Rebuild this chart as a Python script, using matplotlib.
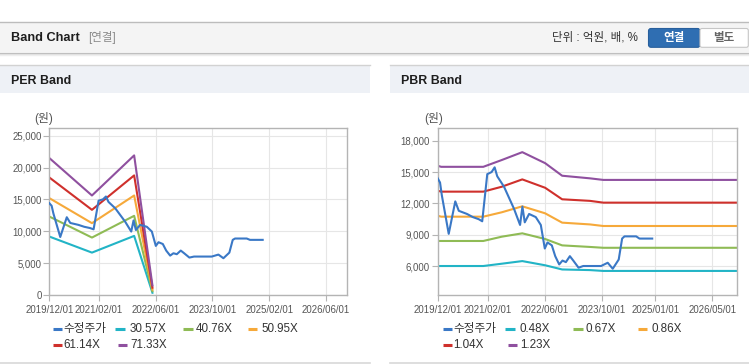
import matplotlib
matplotlib.use('Agg')
import matplotlib.pyplot as plt
import matplotlib.dates as mdates
from matplotlib.patches import Rectangle, FancyBboxPatch
from matplotlib.ticker import FuncFormatter, FixedLocator
import pandas as pd

W, H = 749, 364
FONT = ['Liberation Sans', 'Noto Sans CJK KR', 'DejaVu Sans']
plt.rcParams['font.family'] = FONT

# ---------------- data ----------------
price_dates = ['2019-12-01', '2019-12-21', '2020-01-05', '2020-03-04', '2020-04-29', '2020-05-29',
               '2020-08-07', '2020-09-26', '2020-11-15', '2020-12-15', '2021-01-27', '2021-03-05',
               '2021-03-31', '2021-04-22', '2021-06-19', '2021-09-12', '2021-11-03', '2021-11-23',
               '2021-12-13', '2022-01-19', '2022-03-17', '2022-04-29', '2022-06-02', '2022-06-25',
               '2022-08-01', '2022-08-30', '2022-10-03', '2022-10-31', '2022-11-29', '2023-01-02',
               '2023-01-31', '2023-03-17', '2023-04-26', '2023-09-25', '2023-11-21', '2024-01-03',
               '2024-02-23', '2024-03-23', '2024-04-12', '2024-07-21', '2024-08-18', '2024-12-05']
price_values = [14400, 14000, 12800, 9100, 12200, 11300,
                11000, 10700, 10500, 10300, 14800, 15000,
                15450, 14600, 13600, 11500, 9950, 11700,
                10200, 11000, 10700, 9950, 7700, 8280,
                8000, 6970, 6180, 6550, 6400, 6970,
                6550, 5870, 6030, 6030, 6340, 5770,
                6650, 8650, 8860, 8860, 8650, 8650]

per_dates = ['2019-12-01', '2020-12-01', '2021-11-28', '2022-05-04']
per_labels = ['30.57X', '40.76X', '50.95X', '61.14X', '71.33X']
per_3057 = [9170, 6650, 9270, 350]
per_4076 = [12310, 9010, 12420, 600]
per_5095 = [15200, 11270, 15610, 850]
per_6114 = [18440, 13360, 18760, 1150]
per_7133 = [21490, 15610, 21900, 1500]

pbr_dates = ['2019-12-01', '2019-12-31', '2020-12-24', '2021-05-31', '2021-11-22',
             '2022-06-05', '2022-10-28', '2023-06-23', '2023-10-14', '2026-12-01']
pbr_labels = ['0.48X', '0.67X', '0.86X', '1.04X', '1.23X']
pbr_048 = [6030, 6030, 6030, 6250, 6500, 6100, 5700, 5640, 5560, 5560]
pbr_067 = [8420, 8420, 8420, 8830, 9150, 8610, 8000, 7850, 7770, 7770]
pbr_086 = [10830, 10740, 10740, 11160, 11730, 11060, 10170, 10000, 9850, 9850]
pbr_104 = [13220, 13130, 13130, 13600, 14300, 13500, 12400, 12250, 12080, 12080]
pbr_123 = [15600, 15500, 15500, 16150, 16900, 15850, 14650, 14400, 14250, 14250]

price_label = '수정주가'
per_xticks = ['2019-12-01', '2021-02-01', '2022-06-01', '2023-10-01', '2025-02-01', '2026-06-01']
pbr_xticks = ['2019-12-01', '2021-02-01', '2022-06-01', '2023-10-01', '2025-01-01', '2026-05-01']
per_yticks = [0, 5000, 10000, 15000, 20000, 25000]
pbr_yticks = [6000, 9000, 12000, 15000, 18000]

# ---------------- style ----------------
C_PRICE = '#3a78c6'
BAND_COLORS = ['#22b4c6', '#8fbb55', '#f6a93a', '#cf302c', '#8f509f']

fig = plt.figure(figsize=(W / 100, H / 100), dpi=100)
fig.patch.set_facecolor('white')

bg = fig.add_axes([0, 0, 1, 1], zorder=0)
bg.set_xlim(0, W)
bg.set_ylim(H, 0)
bg.axis('off')

def rect(x0, y0, x1, y1):
    return [x0 / W, 1 - y1 / H, (x1 - x0) / W, (y1 - y0) / H]

# top header bar
bg.add_patch(Rectangle((0, 22.3), W, 30, facecolor='#f4f4f4', edgecolor='none'))
bg.plot([0, W], [22.3, 22.3], color='#bcbcbc', lw=1.0)
bg.plot([0, W], [52.5, 52.5], color='#b8b8b8', lw=1.0)
bg.plot([0, W], [53.8, 53.8], color='#dedede', lw=1.0)
bg.plot([0, W], [55.0, 55.0], color='#eeeeee', lw=1.0)
bg.text(11, 38, 'Band Chart', fontsize=9.2, fontweight='bold', color='#1e1e1e', va='center', ha='left')
bg.text(88, 38, '[연결]', fontsize=8.3, color='#8a8a8a', va='center', ha='left')
bg.text(552.5, 38, '단위 : 억원, 배, %', fontsize=8.3, color='#333333', va='center', ha='left')
bg.add_patch(FancyBboxPatch((648.5, 28.5), 51.5, 18.8, boxstyle='round,pad=0,rounding_size=2.5',
                            facecolor='#2f6eb2', edgecolor='#285f9c', lw=0.8))
bg.text(674.2, 38.2, '연결', fontsize=8.3, fontweight='bold', color='white', va='center', ha='center')
bg.add_patch(FancyBboxPatch((700, 28.5), 48.3, 18.8, boxstyle='round,pad=0,rounding_size=2',
                            facecolor='white', edgecolor='#c6c6c6', lw=0.8))
bg.text(724.2, 38.2, '별도', fontsize=8.3, fontweight='bold', color='#666666', va='center', ha='center')

# panels
for px0, px1, title in [(0, 370, 'PER Band'), (390, W, 'PBR Band')]:
    bg.add_patch(Rectangle((px0, 64.5), px1 - px0, 28.2, facecolor='#eef1f6', edgecolor='none'))
    bg.plot([px0, px1], [64.5, 64.5], color='#d2d2d2', lw=1.0)
    bg.plot([px0, px1], [362.8, 362.8], color='#d8d8d8', lw=1.2)
    bg.text(px0 + 11, 80.5, title, fontsize=8.9, fontweight='bold', color='#1e1e1e', va='center', ha='left')
    bg.text(px0 + 43.5, 118.2, '(원)', fontsize=8.5, color='#555555', va='center', ha='center')

fmt = FuncFormatter(lambda v, p: f'{v:,.0f}')

def style_axes(ax, xt, yt, ylim):
    ax.set_facecolor('white')
    ax.set_xlim(pd.Timestamp('2019-12-01'), pd.Timestamp('2026-12-01'))
    ax.set_ylim(*ylim)
    xt_d = pd.to_datetime(xt)
    ax.xaxis.set_major_locator(FixedLocator(mdates.date2num(xt_d)))
    ax.set_xticklabels([d.strftime('%Y/%m/%d') for d in xt_d])
    ax.set_yticks(yt)
    ax.yaxis.set_major_formatter(fmt)
    ax.grid(True, color='#e6e6e6', lw=0.8)
    ax.set_axisbelow(True)
    for s in ax.spines.values():
        s.set_color('#b4b4b4')
        s.set_linewidth(1.0)
    ax.tick_params(axis='both', colors='#b4b4b4', labelcolor='#555555', labelsize=6.9,
                   length=4, width=0.8)
    ax.tick_params(axis='y', pad=1.5)
    ax.tick_params(axis='x', pad=3)

# PER chart
ax1 = fig.add_axes(rect(49.3, 128.3, 347.3, 295), zorder=1)
style_axes(ax1, per_xticks, per_yticks, (0, 26150))
per_series = [per_3057, per_4076, per_5095, per_6114, per_7133]
pd_per = pd.to_datetime(per_dates)
for vals, col in zip(per_series, BAND_COLORS):
    ax1.plot(pd_per, vals, color=col, lw=1.5, zorder=2)
ax1.plot(pd.to_datetime(price_dates), price_values, color=C_PRICE, lw=1.5, zorder=3)

# PBR chart
ax2 = fig.add_axes(rect(437.7, 128.3, 737.3, 295), zorder=1)
style_axes(ax2, pbr_xticks, pbr_yticks, (3262, 19178))
pbr_series = [pbr_048, pbr_067, pbr_086, pbr_104, pbr_123]
pd_pbr = pd.to_datetime(pbr_dates)
for vals, col in zip(pbr_series, BAND_COLORS):
    ax2.plot(pd_pbr, vals, color=col, lw=1.5, zorder=2)
ax2.plot(pd.to_datetime(price_dates), price_values, color=C_PRICE, lw=1.5, zorder=3)

# legends (manual, matching the reference layout)
leg_text_x = [63.5, 130, 196, 261, 63.5, 130]
leg_mark_x = [52.6, 115, 183, 247.5, 52.6, 117.5]
leg_row_y = [329, 329, 329, 329, 345, 345]
leg_colors = [C_PRICE] + BAND_COLORS
for off, labels in [(0, [price_label] + per_labels), (390, [price_label] + pbr_labels)]:
    for tx, mx, ry, col, lab in zip(leg_text_x, leg_mark_x, leg_row_y, leg_colors, labels):
        bg.plot([off + mx, off + mx + 9.5], [ry, ry], color=col, lw=2.2, solid_capstyle='butt')
        bg.text(off + tx, ry, lab, fontsize=8.4, color='#333333', va='center', ha='left')

fig.savefig('out.png', dpi=100, facecolor='white')
